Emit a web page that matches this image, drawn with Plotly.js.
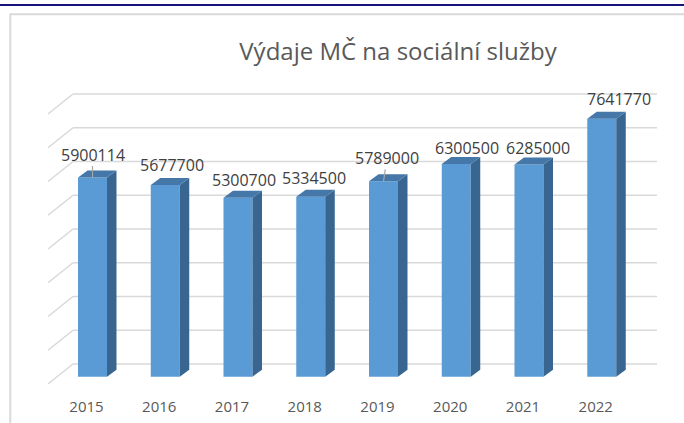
<!DOCTYPE html>
<html>
<head>
<meta charset="utf-8">
<script src="https://cdn.plot.ly/plotly-3.0.1.min.js"></script>
<style>
  html, body { margin: 0; padding: 0; background: #ffffff; }
  #chart { width: 684px; height: 423px; }
</style>
</head>
<body>
<div id="chart"></div>
<script>
// ---------- data ----------
const titleText = 'Výdaje MČ na sociální služby';
const years = ['2015', '2016', '2017', '2018', '2019', '2020', '2021', '2022'];
const values = [5900114, 5677700, 5300700, 5334500, 5789000, 6300500, 6285000, 7641770];
const gridValues = [0, 1000000, 2000000, 3000000, 4000000, 5000000, 6000000, 7000000, 8000000];

// ---------- style / geometry (pixels) ----------
const W = 684, H = 423;
const PLOT_BOTTOM = 392;          // px where plot area ends
const PX0 = 92.5, PXSTEP = 72.75; // bar centre of first category, spacing
const PY0 = 376.7, PYPERM = 33.75;// pixel of zero on front plane, px per million
const BAR_W_PX = 29, DEPTH_DX_PX = 9.5, DEPTH_DY_PX = 7;
const WALL_X0_PX = 73, WALL_X1_PX = 657, WALL_Y0_PX = 364;
const DIAG_DX_PX = -25, DIAG_DY_PX = 20;

const xu = px => (px - PX0) / PXSTEP;                 // px -> x units
const yuPerPx = 1e6 / PYPERM;                          // value per px
const xRange = [xu(0), xu(W)];
const yRange = [-(PLOT_BOTTOM - PY0) * yuPerPx, PY0 * yuPerPx];
const px2paperX = px => px / W;
const px2paperY = py => (PLOT_BOTTOM - py) / PLOT_BOTTOM;

const bw = BAR_W_PX / PXSTEP;
const ddx = DEPTH_DX_PX / PXSTEP;
const ddy = DEPTH_DY_PX * yuPerPx;

const idx = years.map((_, i) => i);

// side faces and top faces
const sideX = [], sideY = [], topX = [], topY = [];
idx.forEach(i => {
  const v = values[i];
  const xr = i + bw / 2, xl = i - bw / 2;
  sideX.push(xr, xr + ddx, xr + ddx, xr, xr, null);
  sideY.push(0, ddy, v + ddy, v, 0, null);
  topX.push(xl, xr, xr + ddx, xl + ddx, xl, null);
  topY.push(v, v, v + ddy, v + ddy, v, null);
});

const traces = [
  {
    type: 'bar', x: idx, y: values, width: bw,
    marker: { color: '#5B9BD5', line: { width: 0 } },
    hoverinfo: 'skip'
  },
  {
    type: 'scatter', mode: 'lines', x: sideX, y: sideY, fill: 'toself',
    fillcolor: '#386690', line: { width: 0, color: '#386690' }, hoverinfo: 'skip'
  },
  {
    type: 'scatter', mode: 'lines', x: topX, y: topY, fill: 'toself',
    fillcolor: '#4577A8', line: { width: 0, color: '#4577A8' }, hoverinfo: 'skip'
  }
];

// wall gridlines + diagonal floor/side lines
const wallDy = (PY0 - WALL_Y0_PX) * yuPerPx;
const shapes = [];
gridValues.forEach(g => {
  const y = g + wallDy;
  shapes.push({
    type: 'line', layer: 'below', xref: 'x', yref: 'y',
    x0: xu(WALL_X0_PX), x1: xu(WALL_X1_PX), y0: y, y1: y,
    line: { color: '#D9D9D9', width: 1.6 }
  });
  shapes.push({
    type: 'line', layer: 'below', xref: 'x', yref: 'y',
    x0: xu(WALL_X0_PX), x1: xu(WALL_X0_PX + DIAG_DX_PX), y0: y, y1: y - DIAG_DY_PX * yuPerPx,
    line: { color: '#D9D9D9', width: 1.6 }
  });
});
// outer frame and top rule
shapes.push({
  type: 'rect', layer: 'below', xref: 'paper', yref: 'paper',
  x0: px2paperX(10.3), x1: px2paperX(W + 20), y0: px2paperY(14.3), y1: px2paperY(H + 20),
  line: { color: '#D9D9D9', width: 2 }, fillcolor: 'rgba(0,0,0,0)'
});
shapes.push({
  type: 'line', layer: 'above', xref: 'paper', yref: 'paper',
  x0: 0, x1: 1, y0: px2paperY(5), y1: px2paperY(5),
  line: { color: '#14147A', width: 2.2 }
});

// data labels
const labelShiftX = [0, 7, 6, 3, 3.5, 11, 9, 17];
const labelShiftY = [23, 20, 18, 19, 23.5, 16, 16.5, 20];
const leader = [true, false, false, false, true, false, false, false];
const annotations = idx.map(i => {
  const base = {
    x: i, y: values[i], xref: 'x', yref: 'y',
    text: String(values[i]),
    font: { family: 'Open Sans, sans-serif', size: 16, color: '#404040' }
  };
  if (leader[i]) {
    return Object.assign(base, {
      showarrow: true, arrowhead: 0, arrowwidth: 1.2, arrowcolor: '#A6A6A6',
      ax: labelShiftX[i], ay: -labelShiftY[i], standoff: 0, borderpad: 0
    });
  }
  return Object.assign(base, {
    showarrow: false, xanchor: 'center', yanchor: 'middle',
    xshift: labelShiftX[i], yshift: labelShiftY[i]
  });
});

const layout = {
  width: W, height: H,
  margin: { l: 0, r: 0, t: 0, b: H - PLOT_BOTTOM, pad: 0 },
  paper_bgcolor: '#ffffff', plot_bgcolor: 'rgba(0,0,0,0)',
  showlegend: false,
  title: {
    text: titleText,
    font: { family: 'Open Sans, sans-serif', size: 24, color: '#595959' },
    xref: 'container', yref: 'container',
    x: 398 / W, y: 1 - 52 / H, xanchor: 'center', yanchor: 'middle'
  },
  xaxis: {
    range: xRange, tickvals: idx, ticktext: years,
    showgrid: false, zeroline: false, showline: false, ticks: '',
    tickfont: { family: 'Open Sans, sans-serif', size: 15, color: '#595959' },
    ticklabelshift: -6, ticklabelstandoff: 4, fixedrange: true
  },
  yaxis: {
    range: yRange, visible: false, showgrid: false, zeroline: false, fixedrange: true
  },
  shapes: shapes,
  annotations: annotations
};

Plotly.newPlot('chart', traces, layout, { displayModeBar: false, staticPlot: true });
</script>
</body>
</html>
